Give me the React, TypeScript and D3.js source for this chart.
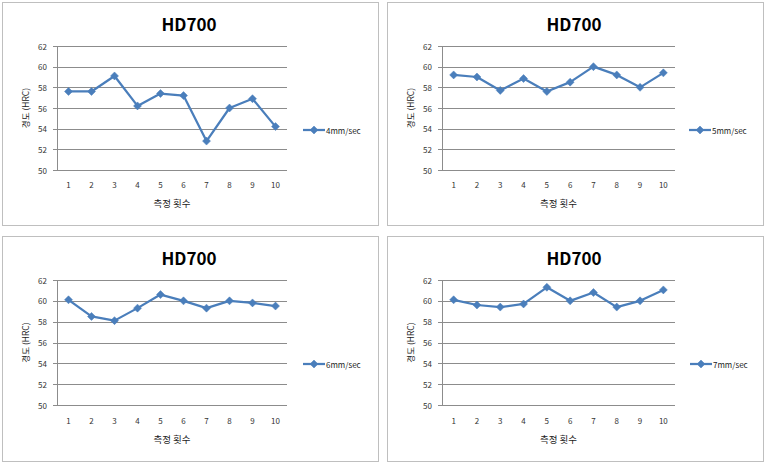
import React from "react";
import * as d3 from "d3";

const categories = ["1", "2", "3", "4", "5", "6", "7", "8", "9", "10"];
const yTicks = [50, 52, 54, 56, 58, 60, 62];
const chartTitle = "HD700";
const xTitle = "측정 횟수";
const yTitle = "경도 (HRC)";
const seriesNames = ["4mm/sec", "5mm/sec", "6mm/sec", "7mm/sec"];
const series4 = [57.6, 57.6, 59.1, 56.2, 57.4, 57.2, 52.8, 56.0, 56.9, 54.2];
const series5 = [59.2, 59.0, 57.7, 58.85, 57.6, 58.5, 60.0, 59.2, 58.0, 59.4];
const series6 = [60.1, 58.5, 58.1, 59.3, 60.6, 60.0, 59.3, 60.0, 59.8, 59.5];
const series7 = [60.1, 59.6, 59.4, 59.7, 61.3, 60.0, 60.8, 59.4, 60.0, 61.05];
const allSeries = [series4, series5, series6, series7];

const layouts = [
  { bx: 2, by: 2, bw: 376, bh: 223, l: 57, r: 287, t: 46, b: 170, ty: 23, xl: 184, xt: 203, ly: 130, lx: 303 },
  { bx: 387, by: 2, bw: 376, bh: 223, l: 442, r: 675, t: 46, b: 170, ty: 23, xl: 184, xt: 203, ly: 130, lx: 689 },
  { bx: 2, by: 236, bw: 376, bh: 225, l: 57, r: 287, t: 280, b: 405, ty: 257, xl: 420, xt: 439, ly: 364, lx: 303 },
  { bx: 387, by: 236, bw: 376, bh: 225, l: 442, r: 675, t: 280, b: 405, ty: 257, xl: 420, xt: 439, ly: 364, lx: 690 },
];

const FONT = "'Noto Sans CJK KR', 'Noto Sans', sans-serif";
const BLUE = "#4A7EBB";

function Diamond({ x, y, s = 4 }: { x: number; y: number; s?: number }) {
  return (
    <path
      d={`M${x},${y - s}L${x + s},${y}L${x},${y + s}L${x - s},${y}Z`}
      fill={BLUE}
      stroke={BLUE}
      strokeWidth={0.5}
    />
  );
}

function Panel({ idx }: { idx: number }) {
  const L = layouts[idx];
  const data = allSeries[idx];
  const x = d3.scaleBand<string>().domain(categories).range([L.l, L.r]);
  const y = d3.scaleLinear().domain([50, 62]).range([L.b, L.t]);
  const cx = (c: string) => (x(c) as number) + x.bandwidth() / 2;
  const line = d3
    .line<number>()
    .x((_, i) => cx(categories[i]))
    .y((v) => y(v));
  const midX = (L.l + L.r) / 2;
  const midY = (L.t + L.b) / 2;
  return (
    <g>
      <rect x={L.bx + 0.5} y={L.by + 0.5} width={L.bw} height={L.bh} fill="#fff" stroke="#BFBFBF" strokeWidth={1} />
      <text x={L.bx + L.bw / 2 - 1} y={L.ty} textAnchor="middle" dominantBaseline="central" fontFamily={FONT} fontWeight="bold" fontSize={17} fill="#000">
        {chartTitle}
      </text>
      {yTicks.map((t) => (
        <g key={t}>
          {t !== 50 && (
            <line x1={L.l} x2={L.r} y1={Math.round(y(t)) + 0.5} y2={Math.round(y(t)) + 0.5} stroke="#8C8C8C" strokeWidth={1} />
          )}
          <line x1={L.l - 4} x2={L.l} y1={Math.round(y(t)) + 0.5} y2={Math.round(y(t)) + 0.5} stroke="#8C8C8C" strokeWidth={1} />
          <text x={L.l - 10} y={y(t)} textAnchor="end" dominantBaseline="central" fontFamily={FONT} fontSize={8} fill="#333">
            {t}
          </text>
        </g>
      ))}
      <line x1={L.l + 0.5} x2={L.l + 0.5} y1={L.t} y2={L.b} stroke="#8C8C8C" strokeWidth={1} />
      <line x1={L.l} x2={L.r} y1={Math.round(y(50)) + 0.5} y2={Math.round(y(50)) + 0.5} stroke="#8C8C8C" strokeWidth={1} />
      {categories.map((c) => (
        <text key={c} x={cx(c)} y={L.xl} textAnchor="middle" dominantBaseline="central" fontFamily={FONT} fontSize={8} fill="#333">
          {c}
        </text>
      ))}
      <text x={midX} y={L.xt} textAnchor="middle" dominantBaseline="central" fontFamily={FONT} fontSize={9.5} fill="#222">
        {xTitle}
      </text>
      <text
        transform={`translate(${L.l - 32},${midY}) rotate(-90)`}
        textAnchor="middle"
        dominantBaseline="central"
        fontFamily={FONT}
        fontSize={8.5}
        fill="#222"
      >
        {yTitle}
      </text>
      <path d={line(data) || ""} fill="none" stroke={BLUE} strokeWidth={2.25} strokeLinejoin="round" />
      {data.map((v, i) => (
        <Diamond key={i} x={cx(categories[i])} y={y(v)} />
      ))}
      <line x1={L.lx} x2={L.lx + 22} y1={L.ly} y2={L.ly} stroke={BLUE} strokeWidth={2.25} />
      <Diamond x={L.lx + 11} y={L.ly} />
      <text x={L.lx + 23} y={L.ly} dominantBaseline="central" fontFamily={FONT} fontSize={8} fill="#222">
        {seriesNames[idx]}
      </text>
    </g>
  );
}

export default function App() {
  return (
    <div style={{ position: "absolute", left: 0, top: 0 }}>
      <svg width={766} height={463} style={{ display: "block", background: "#fff" }}>
        {layouts.map((_, i) => (
          <Panel key={i} idx={i} />
        ))}
      </svg>
    </div>
  );
}
